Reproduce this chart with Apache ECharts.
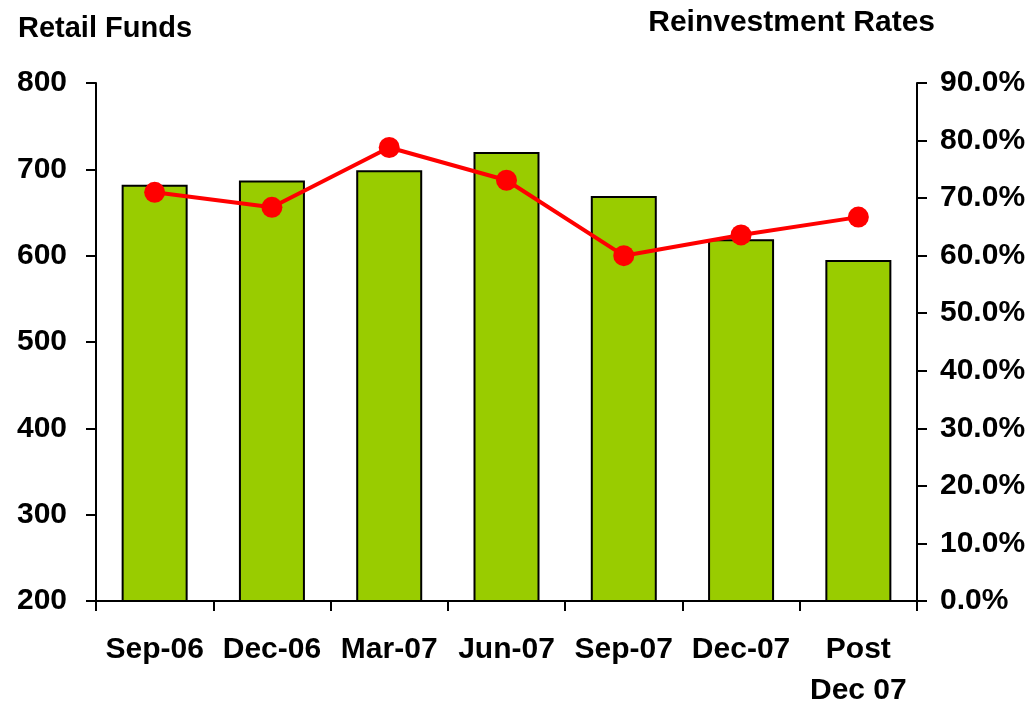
<!DOCTYPE html>
<html>
<head>
<meta charset="utf-8">
<script src="https://cdn.jsdelivr.net/npm/echarts@6/dist/echarts.min.js"></script>
<style>
  html, body { margin: 0; padding: 0; background: #fff; }
  #chart { width: 1028px; height: 703px; }
</style>
</head>
<body>
<div id="chart"></div>
<script>
// categories and values
var categories = ['Sep-06', 'Dec-06', 'Mar-07', 'Jun-07', 'Sep-07', 'Dec-07', 'Post\nDec 07'];
var retailFunds = [682, 687, 699, 720, 669, 619, 595];
var reinvestRates = [71.0, 68.4, 78.8, 73.1, 60.0, 63.6, 66.7];

var font = '"Liberation Sans", Arial, sans-serif';

var option = {
    backgroundColor: '#fff',
    animation: false,
    title: [
        {
            text: 'Retail Funds',
            left: 13,
            top: 9,
            textStyle: { fontFamily: font, fontSize: 29, fontWeight: 'bold', color: '#000' }
        },
        {
            text: 'Reinvestment Rates',
            right: 88,
            top: 3,
            textStyle: { fontFamily: font, fontSize: 30, fontWeight: 'bold', color: '#000' }
        }
    ],
    grid: {
        left: 96,
        right: 111,
        top: 83,
        bottom: 102,
        outerBoundsMode: 'none'
    },
    xAxis: {
        type: 'category',
        data: categories,
        axisLine: { lineStyle: { color: '#000', width: 2 } },
        axisTick: { show: true, length: 10, lineStyle: { color: '#000', width: 2 } },
        axisLabel: {
            color: '#000',
            fontFamily: font,
            fontSize: 30,
            fontWeight: 'bold',
            margin: 28,
            lineHeight: 41,
            interval: 0
        },
        splitLine: { show: false }
    },
    yAxis: [
        {
            type: 'value',
            min: 200,
            max: 800,
            interval: 100,
            axisLine: { show: true, lineStyle: { color: '#000', width: 2 } },
            axisTick: { show: true, length: 10, lineStyle: { color: '#000', width: 2 } },
            axisLabel: {
                color: '#000',
                fontFamily: font,
                fontSize: 30,
                fontWeight: 'bold',
                margin: 29
            },
            splitLine: { show: false }
        },
        {
            type: 'value',
            min: 0,
            max: 90,
            interval: 10,
            position: 'right',
            axisLine: { show: true, lineStyle: { color: '#000', width: 2 } },
            axisTick: { show: true, length: 10, lineStyle: { color: '#000', width: 2 } },
            axisLabel: {
                color: '#000',
                fontFamily: font,
                fontSize: 30,
                fontWeight: 'bold',
                margin: 23,
                formatter: function (v) { return v.toFixed(1) + '%'; }
            },
            splitLine: { show: false }
        }
    ],
    series: [
        {
            name: 'Retail Funds',
            type: 'bar',
            yAxisIndex: 0,
            barWidth: 66,
            itemStyle: {
                color: '#99cc00',
                borderColor: '#000',
                borderWidth: 2
            },
            data: retailFunds
        },
        {
            name: 'Reinvestment Rates',
            type: 'line',
            yAxisIndex: 1,
            symbol: 'circle',
            symbolSize: 21,
            lineStyle: { color: '#ff0000', width: 4 },
            itemStyle: { color: '#ff0000' },
            data: reinvestRates
        }
    ]
};

var myChart = echarts.init(document.getElementById('chart'));
myChart.setOption(option);
</script>
</body>
</html>
